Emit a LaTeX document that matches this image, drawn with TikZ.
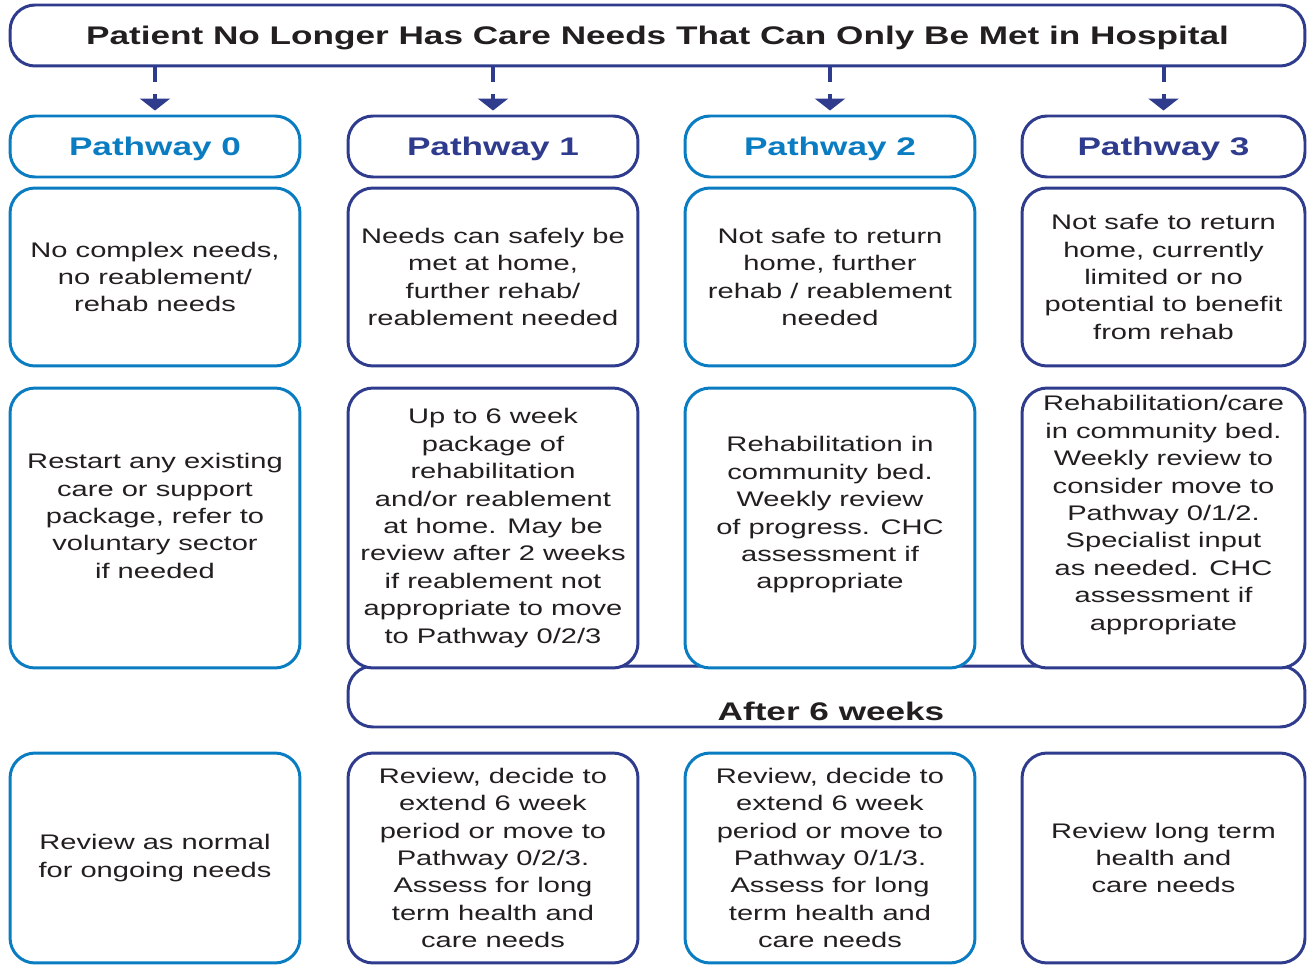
\documentclass[tikz,border=0pt]{standalone}
\usepackage{fontspec}
\setmainfont{Liberation Sans}[FakeStretch=1.38]
\usetikzlibrary{arrows.meta}

\definecolor{pwlight}{HTML}{0A7CC1}
\definecolor{pwdark}{HTML}{2F3C8E}
\definecolor{ink}{HTML}{231F20}

\tikzset{
  box/.style={draw=#1, line width=1.7pt, rounded corners=0.5cm, fill=white,
    minimum width=5.8cm, inner sep=0pt},
  headbox/.style={box=#1, minimum height=1.22cm, text=#1, text depth=0pt,
    font=\fontsize{14.5}{17}\selectfont\bfseries},
  txt/.style={text=ink, align=center, font=\fontsize{12}{15.6}\selectfont},
  down/.style={pwdark, line width=0.08cm, dash pattern=on 0.3cm off 0.24cm,
    -{Triangle[width=0.6cm,length=0.24cm]}, shorten >=0.08cm},
}

\begin{document}
\begin{tikzpicture}[x=0.02cm, y=-0.02cm]
\useasboundingbox (0,0) rectangle (1307,966);

% top banner
\node[box=pwdark, minimum width=25.9cm, minimum height=1.22cm, text=ink, text depth=0pt,
  font=\fontsize{14.5}{17}\selectfont\bfseries] (banner) at (657.5,35.5)
  {Patient No Longer Has Care Needs That Can Only Be Met in Hospital};

% pathway headers
\node[headbox=pwlight] (p0) at (155,146.5) {Pathway 0};
\node[headbox=pwdark] (p1) at (493,146.5) {Pathway 1};
\node[headbox=pwlight] (p2) at (830,146.5) {Pathway 2};
\node[headbox=pwdark, minimum width=5.66cm] (p3) at (1163.5,146.5) {Pathway 3};

% who goes on each pathway
\node[box=pwlight, minimum height=3.56cm, txt] (need0) at (155,277)
  {No complex needs,\\no reablement/\\rehab needs};
\node[box=pwdark, minimum height=3.56cm, txt] (need1) at (493,277)
  {Needs can safely be\\met at home,\\further rehab/\\reablement needed};
\node[box=pwlight, minimum height=3.56cm, txt] (need2) at (830,277)
  {Not safe to return\\home, further\\rehab / reablement\\needed};
\node[box=pwdark, minimum height=3.56cm, minimum width=5.66cm, txt] (need3) at (1163.5,277)
  {Not safe to return\\home, currently\\limited or no\\potential to benefit\\from rehab};

% after 6 weeks band
\node[box=pwdark, minimum width=19.14cm, minimum height=1.22cm] (after) at (826.5,696.5) {};
\node[text=ink, font=\fontsize{14.5}{17}\selectfont\bfseries] (aftertxt) at (831,711) {After 6 weeks};

% what happens on each pathway
\node[box=pwlight, minimum height=5.6cm] (act0) at (155,528) {};
\node[box=pwdark, minimum height=5.6cm] (act1) at (493,528) {};
\node[box=pwlight, minimum height=5.6cm] (act2) at (830,528) {};
\node[box=pwdark, minimum height=5.6cm, minimum width=5.66cm] (act3) at (1163.5,528) {};
\node[txt] (act0txt) at (155,516)
  {Restart any existing\\care or support\\package, refer to\\voluntary sector\\if needed};
\node[txt] (act1txt) at (493,528)
  {Up to 6 week\\package of\\rehabilitation\\and/or reablement\\at home. May be\\review after 2 weeks\\if reablement not\\appropriate to move\\to Pathway 0/2/3};
\node[txt] (act2txt) at (830,515)
  {Rehabilitation in\\community bed.\\Weekly review\\of progress. CHC\\assessment if\\appropriate};
\node[txt] (act3txt) at (1163.5,515)
  {Rehabilitation/care\\in community bed.\\Weekly review to\\consider move to\\Pathway 0/1/2.\\Specialist input\\as needed. CHC\\assessment if\\appropriate};

% reviews
\node[box=pwlight, minimum height=4.2cm, txt] (rev0) at (155,858)
  {Review as normal\\for ongoing needs};
\node[box=pwdark, minimum height=4.2cm, txt] (rev1) at (493,858)
  {Review, decide to\\extend 6 week\\period or move to\\Pathway 0/2/3.\\Assess for long\\term health and\\care needs};
\node[box=pwlight, minimum height=4.2cm, txt] (rev2) at (830,858)
  {Review, decide to\\extend 6 week\\period or move to\\Pathway 0/1/3.\\Assess for long\\term health and\\care needs};
\node[box=pwdark, minimum height=4.2cm, minimum width=5.66cm, txt] (rev3) at (1163.5,858)
  {Review long term\\health and\\care needs};

% arrows down to the pathways
\foreach \p in {p0,p1,p2,p3}
  \draw[down] (banner.south -| \p.north) -- (\p.north);
\end{tikzpicture}
\end{document}
